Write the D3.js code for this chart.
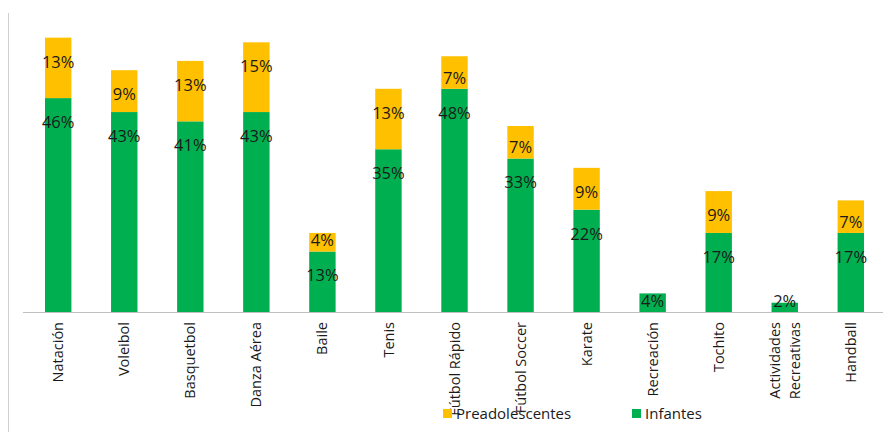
<!DOCTYPE html>
<html>
<head>
<meta charset="utf-8">
<script src="https://cdn.jsdelivr.net/npm/d3@7"></script>
<style>
  html, body { margin: 0; padding: 0; background: #fff; }
  svg { display: block; font-family: "Open Sans", "Noto Sans", sans-serif; }
</style>
</head>
<body>
<svg id="chart" width="885" height="432"></svg>
<script>
// Activity categories (multi-line names split with "\n")
const categories = [
  "Natación", "Voleibol", "Basquetbol", "Danza Aérea", "Baile", "Tenis",
  "Fútbol Rápido", "Fútbol Soccer", "Karate", "Recreación", "Tochito",
  "Actividades\nRecreativas", "Handball"
];
// Percentage of children (bottom segment)
const infantes = [46, 43, 41, 43, 13, 35, 48, 33, 22, 4, 17, 2, 17];
// Percentage of pre-teens (top segment); 0 = no segment
const preadolescentes = [13, 9, 13, 15, 4, 13, 7, 7, 9, 0, 9, 0, 7];
const seriesNames = ["Preadolescentes", "Infantes"];

const colors = { Infantes: "#00b050", Preadolescentes: "#ffc000" };

const svg = d3.select("#chart");
const baseY = 312;

const x = d3.scaleBand()
  .domain(categories)
  .range([45, 864])
  .paddingInner(0.6)
  .paddingOuter(0);

const y = d3.scaleLinear().domain([0, 60]).range([baseY, 33]);

// Left frame line
svg.append("line")
  .attr("x1", 8.5).attr("x2", 8.5)
  .attr("y1", 13).attr("y2", 432)
  .attr("stroke", "#d0d0d0").attr("stroke-width", 1);

// Stack the two series
const rows = categories.map((c, i) => ({
  cat: c, Infantes: infantes[i], Preadolescentes: preadolescentes[i]
}));
const stack = d3.stack().keys(["Infantes", "Preadolescentes"]);
const layers = stack(rows);

const g = svg.append("g");
layers.forEach(layer => {
  const key = layer.key;
  g.selectAll("rect." + key)
    .data(layer.filter(d => d[1] - d[0] > 0))
    .join("rect")
    .attr("class", key)
    .attr("x", d => x(d.data.cat))
    .attr("width", x.bandwidth())
    .attr("y", d => y(d[1]))
    .attr("height", d => y(d[0]) - y(d[1]))
    .attr("fill", colors[key]);
});

// Baseline (category axis line)
svg.append("line")
  .attr("x1", 23).attr("x2", 883)
  .attr("y1", baseY + 0.5).attr("y2", baseY + 0.5)
  .attr("stroke", "#bfbfbf").attr("stroke-width", 1);

// Value labels inside each segment
layers.forEach(layer => {
  g.selectAll("text.lbl-" + layer.key)
    .data(layer.filter(d => d[1] - d[0] > 0))
    .join("text")
    .attr("class", "lbl-" + layer.key)
    .attr("x", d => x(d.data.cat) + x.bandwidth() / 2)
    .attr("y", d => Math.min(y(d[1]) + 24, y(d[0]) - 11))
    .attr("dy", "0.36em")
    .attr("text-anchor", "middle")
    .attr("font-size", "16.5px")
    .attr("fill", "#1a1a1a")
    .text(d => (d[1] - d[0]) + "%");
});

// Rotated category labels
const catG = svg.append("g");
categories.forEach(c => {
  const lines = c.split("\n");
  const cx = x(c) + x.bandwidth() / 2;
  const t = catG.append("text")
    .attr("transform", `translate(${cx},${baseY + 10}) rotate(-90)`)
    .attr("text-anchor", "end")
    .attr("font-size", "14.5px")
    .attr("fill", "#1a1a1a");
  lines.forEach((ln, j) => {
    t.append("tspan")
      .attr("x", 0)
      .attr("y", 0)
      .attr("dy", (0.35 + (j - (lines.length - 1) / 2) * 1.38) + "em")
      .text(ln);
  });
});

// Legend
const legend = svg.append("g");
const legendX = [443, 632];
seriesNames.forEach((name, i) => {
  legend.append("rect")
    .attr("x", legendX[i]).attr("y", 409)
    .attr("width", 9).attr("height", 9)
    .attr("fill", colors[name]);
  legend.append("text")
    .attr("x", legendX[i] + 13).attr("y", 414)
    .attr("dy", "0.36em")
    .attr("font-size", "15px")
    .attr("fill", "#1a1a1a")
    .text(name);
});
</script>
</body>
</html>
